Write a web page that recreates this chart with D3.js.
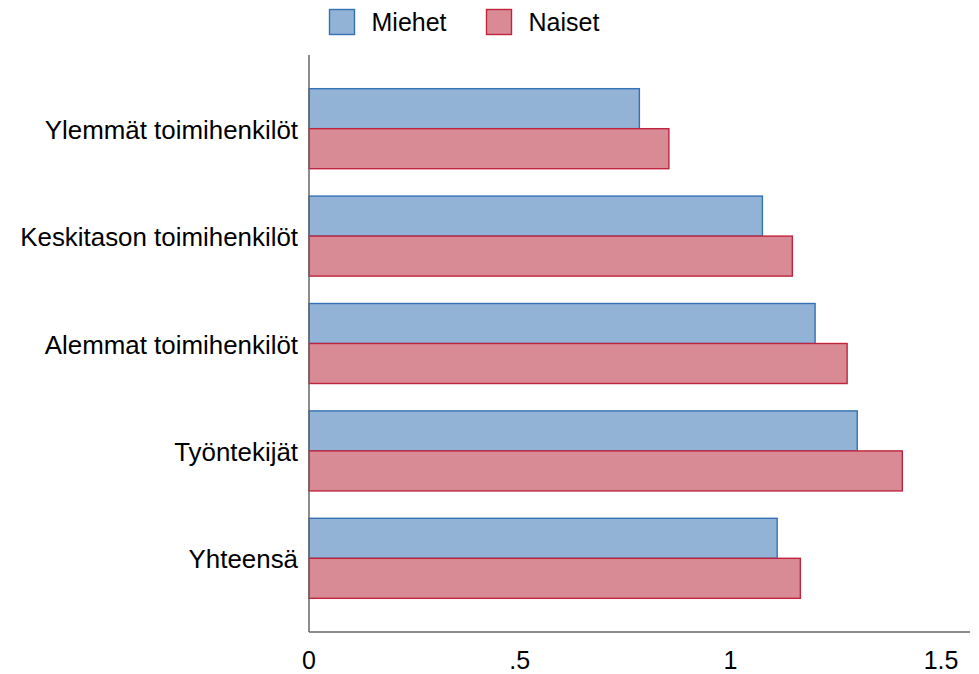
<!DOCTYPE html>
<html>
<head>
<meta charset="utf-8">
<style>
body { margin: 0; background: #fff; }
svg { font-family: "Liberation Sans", Arial, sans-serif; }
.axis-line { stroke: #666; stroke-width: 1.5px; }
.label { font-size: 25px; fill: #000; }
.cat { font-size: 25.9px; }
</style>
</head>
<body>
<svg width="979" height="674"></svg>
<script src="https://d3js.org/d3.v7.min.js"></script>
<script>
const categories = ["Ylemmät toimihenkilöt", "Keskitason toimihenkilöt", "Alemmat toimihenkilöt", "Työntekijät", "Yhteensä"]
const series = ["Miehet", "Naiset"]
const miehet = [0.784, 1.076, 1.201, 1.301, 1.111]
const naiset = [0.854, 1.147, 1.277, 1.408, 1.166]
const ticks = [0, 0.5, 1, 1.5]
const tickLabels = ["0", ".5", "1", "1.5"]

const fills = { Miehet: "#92b3d6", Naiset: "#d98b95" }
const strokes = { Miehet: "#3571b5", Naiset: "#c0243d" }

const svg = d3.select("svg")
const plotLeft = 309, plotRight = 970, plotTop = 55, plotBottom = 632

const x = d3.scaleLinear().domain([0, 1.5]).range([plotLeft, plotLeft + 1.5 * 421.4])
const y = d3.scaleBand().domain(categories).range([plotTop, plotBottom])
    .paddingInner(0.255).paddingOuter(0.3135)
const sub = d3.scaleBand().domain(series).range([0, y.bandwidth()])

const rows = categories.map((c, i) => ({ cat: c, Miehet: miehet[i], Naiset: naiset[i] }))

// bars
const g = svg.append("g")
rows.forEach(r => {
    series.forEach(s => {
        g.append("rect")
            .attr("x", x(0))
            .attr("y", y(r.cat) + sub(s))
            .attr("width", x(r[s]) - x(0))
            .attr("height", sub.bandwidth())
            .attr("fill", fills[s])
            .attr("stroke", strokes[s])
            .attr("stroke-width", 1.4)
    })
})

// axes
svg.append("line").attr("class", "axis-line")
    .attr("x1", plotLeft).attr("x2", plotLeft).attr("y1", plotTop).attr("y2", plotBottom)
svg.append("line").attr("class", "axis-line")
    .attr("x1", plotLeft).attr("x2", plotRight).attr("y1", plotBottom).attr("y2", plotBottom)

svg.append("g").selectAll("text")
    .data(ticks)
    .enter().append("text")
    .attr("class", "label")
    .attr("x", d => x(d))
    .attr("y", 669)
    .attr("text-anchor", "middle")
    .text((d, i) => tickLabels[i])

svg.append("g").selectAll("text")
    .data(categories)
    .enter().append("text")
    .attr("class", "label cat")
    .attr("x", 298)
    .attr("y", d => y(d) + y.bandwidth() / 2 + 10)
    .attr("text-anchor", "end")
    .text(d => d)

// legend
const legendX = { Miehet: 329.5, Naiset: 486.5 }
series.forEach(s => {
    svg.append("rect")
        .attr("x", legendX[s]).attr("y", 9.5)
        .attr("width", 25).attr("height", 25)
        .attr("fill", fills[s]).attr("stroke", strokes[s]).attr("stroke-width", 1.4)
    svg.append("text").attr("class", "label")
        .attr("x", legendX[s] + 42).attr("y", 31)
        .text(s)
})
</script>
</body>
</html>
